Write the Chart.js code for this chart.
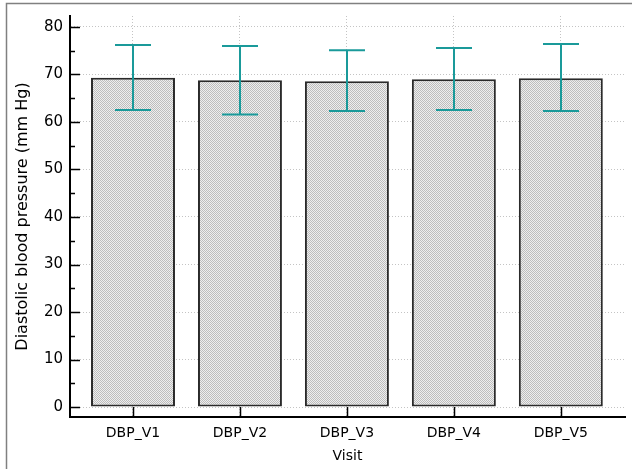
<!DOCTYPE html>
<html lang="en">
<head>
    <meta charset="UTF-8">
    <title>Diastolic blood pressure by visit</title>
    <script src="https://cdn.jsdelivr.net/npm/chart.js"></script>
    <style>
        html, body { margin: 0; padding: 0; background: #fff; }
        #wrap { width: 632px; height: 469px; }
    </style>
</head>
<body>
    <div id="wrap"><canvas id="myChart" width="632" height="469"></canvas></div>
    <script>
        // Donnees
        const visits = ['DBP_V1', 'DBP_V2', 'DBP_V3', 'DBP_V4', 'DBP_V5'];
        const means = [69.3, 68.8, 68.6, 69.0, 69.2];
        const upper = [76.2, 76.0, 75.1, 75.6, 76.4];
        const lower = [62.5, 61.6, 62.3, 62.5, 62.3];
        const yTicks = [0, 10, 20, 30, 40, 50, 60, 70, 80];
        const yMinorTicks = [5, 15, 25, 35, 45, 55, 65, 75];

        const FONT = 'DejaVu Sans';
        const TEAL = '#1a9a9a';

        // Motif pointille pour le remplissage des barres
        function dotPattern() {
            const c = document.createElement('canvas');
            c.width = 2; c.height = 2;
            const g = c.getContext('2d');
            g.fillStyle = '#eeeeee';
            g.fillRect(0, 0, 2, 2);
            g.fillStyle = '#bdbdbd';
            g.fillRect(0, 0, 1, 1);
            g.fillRect(1, 1, 1, 1);
            return g.createPattern(c, 'repeat');
        }

        // Cadre, ticks internes et barres d'erreur
        const extras = {
            id: 'extras',
            beforeDraw(chart) {
                const ctx = chart.ctx;
                ctx.save();
                ctx.fillStyle = '#fff';
                ctx.fillRect(0, 0, chart.width, chart.height);
                ctx.strokeStyle = '#808080';
                ctx.lineWidth = 1.5;
                ctx.strokeRect(6.5, 3.5, chart.width + 20, chart.height + 20);
                ctx.restore();
            },
            afterDatasetsDraw(chart) {
                const ctx = chart.ctx;
                const x = chart.scales.x, y = chart.scales.y;
                const area = chart.chartArea;
                ctx.save();
                ctx.strokeStyle = '#000';
                ctx.lineWidth = 1.5;
                ctx.beginPath();
                yTicks.forEach(v => {
                    const py = Math.round(y.getPixelForValue(v)) + 0.5;
                    ctx.moveTo(area.left, py);
                    ctx.lineTo(area.left + 10, py);
                });
                yMinorTicks.forEach(v => {
                    const py = Math.round(y.getPixelForValue(v)) + 0.5;
                    ctx.moveTo(area.left, py);
                    ctx.lineTo(area.left + 5, py);
                });
                visits.forEach((_, i) => {
                    const px = Math.round(x.getPixelForValue(i)) + 0.5;
                    ctx.moveTo(px, area.bottom);
                    ctx.lineTo(px, area.bottom - 10);
                });
                ctx.stroke();

                ctx.strokeStyle = TEAL;
                ctx.lineWidth = 2;
                ctx.beginPath();
                visits.forEach((_, i) => {
                    const px = Math.round(x.getPixelForValue(i));
                    const hi = y.getPixelForValue(upper[i]);
                    const lo = y.getPixelForValue(lower[i]);
                    ctx.moveTo(px, hi);
                    ctx.lineTo(px, lo);
                    ctx.moveTo(px - 18, hi);
                    ctx.lineTo(px + 18, hi);
                    ctx.moveTo(px - 18, lo);
                    ctx.lineTo(px + 18, lo);
                });
                ctx.stroke();
                ctx.restore();
            }
        };

        const ctx = document.getElementById('myChart').getContext('2d');
        const myChart = new Chart(ctx, {
            type: 'bar',
            data: {
                datasets: [{
                    data: means.map((m, i) => ({ x: i, y: m })),
                    backgroundColor: dotPattern(),
                    borderColor: '#2a2a2a',
                    borderWidth: 2,
                    borderSkipped: false,
                    barPercentage: 0.785,
                    categoryPercentage: 1
                }]
            },
            plugins: [extras],
            options: {
                responsive: false,
                animation: false,
                layout: { padding: { top: 15, right: 7, left: 0, bottom: 0 } },
                plugins: {
                    legend: { display: false },
                    tooltip: { enabled: false }
                },
                scales: {
                    x: {
                        type: 'linear',
                        offset: false,
                        min: -0.589,
                        max: 4.6,
                        afterBuildTicks(scale) {
                            scale.ticks = visits.map((_, i) => ({ value: i }));
                        },
                        afterFit(scale) { scale.height = 52; },
                        ticks: {
                            callback: (v) => visits[v],
                            color: '#000',
                            font: { family: FONT, size: 14 },
                            padding: 8,
                            maxRotation: 0
                        },
                        grid: {
                            offset: false,
                            color: '#c4c4c4',
                            lineWidth: 1,
                            drawTicks: false
                        },
                        border: { display: true, color: '#000', width: 2, dash: [1, 2] },
                        title: {
                            display: true,
                            text: 'Visit',
                            color: '#000',
                            font: { family: FONT, size: 14 },
                            padding: { top: 0, bottom: 4 }
                        }
                    },
                    y: {
                        min: -2.1,
                        max: 82.31,
                        afterBuildTicks(scale) {
                            scale.ticks = yTicks.map(v => ({ value: v }));
                        },
                        afterFit(scale) { scale.width = 70; },
                        ticks: {
                            color: '#000',
                            font: { family: FONT, size: 15 },
                            padding: 7
                        },
                        grid: {
                            color: '#c4c4c4',
                            lineWidth: 1,
                            drawTicks: false
                        },
                        border: { display: true, color: '#000', width: 2, dash: [1, 2] },
                        title: {
                            display: true,
                            text: 'Diastolic blood pressure (mm Hg)',
                            color: '#000',
                            font: { family: FONT, size: 16 },
                            padding: { top: 13, bottom: 0 }
                        }
                    }
                }
            }
        });
    </script>
</body>
</html>
